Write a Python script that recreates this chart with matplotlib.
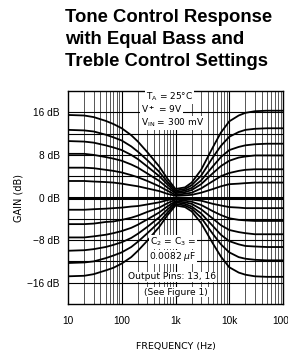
import numpy as np
import matplotlib
matplotlib.use("Agg")
import matplotlib.pyplot as plt
from matplotlib.ticker import LogLocator, NullFormatter

# frequency points (Hz) shared by all curves
freq = [10, 20, 30, 50, 70, 100, 150, 200, 300, 500, 700, 1000,
        1500, 2000, 3000, 5000, 7000, 10000, 15000, 20000, 30000, 50000, 100000]

# gain (dB), boost curves first
boost_6 = [15.5, 15.4, 15.1, 14.4, 13.8, 13.0, 11.7, 10.5, 8.5, 5.8, 3.6, 1.6,
           1.9, 2.8, 5.2, 9.5, 12.2, 14.3, 15.4, 15.9, 16.2, 16.3, 16.3]
boost_5 = [12.7, 12.6, 12.4, 11.8, 11.3, 10.7, 9.6, 8.6, 7.0, 4.8, 3.0, 1.3,
           1.6, 2.3, 4.1, 7.6, 9.7, 11.4, 12.3, 12.7, 12.9, 13.0, 13.0]
boost_4 = [10.6, 10.5, 10.3, 9.8, 9.4, 8.9, 8.0, 7.2, 5.8, 4.0, 2.5, 1.0,
           1.3, 1.8, 3.2, 5.9, 7.6, 8.9, 9.5, 9.8, 10.0, 10.1, 10.1]
boost_3 = [8.2, 8.2, 8.0, 7.6, 7.3, 6.9, 6.2, 5.6, 4.5, 3.1, 1.9, 0.8,
           1.0, 1.4, 2.5, 4.6, 5.9, 6.9, 7.5, 7.7, 7.9, 7.9, 7.9]
boost_2 = [5.6, 5.6, 5.5, 5.2, 5.0, 4.7, 4.2, 3.8, 3.1, 2.1, 1.3, 0.5,
           0.7, 0.9, 1.7, 3.1, 4.0, 4.6, 5.0, 5.2, 5.3, 5.3, 5.3]
boost_1 = [3.1, 3.1, 3.0, 2.9, 2.8, 2.6, 2.3, 2.1, 1.7, 1.2, 0.7, 0.3,
           0.4, 0.5, 0.9, 1.6, 2.1, 2.5, 2.6, 2.7, 2.8, 2.8, 2.8]
flat = [0.0] * len(freq)
cut_1 = [-2.3, -2.3, -2.2, -2.1, -2.0, -1.9, -1.7, -1.6, -1.3, -0.9, -0.5, -0.2,
         -0.3, -0.4, -0.6, -1.2, -1.5, -1.8, -1.9, -2.0, -2.0, -2.0, -2.0]
cut_2 = [-5.0, -5.0, -4.9, -4.6, -4.5, -4.2, -3.8, -3.4, -2.7, -1.9, -1.1, -0.4,
         -0.6, -0.8, -1.4, -2.6, -3.3, -3.9, -4.2, -4.3, -4.4, -4.4, -4.4]
cut_3 = [-7.5, -7.5, -7.3, -7.0, -6.7, -6.3, -5.7, -5.1, -4.1, -2.8, -1.7, -0.7,
         -0.9, -1.2, -2.2, -4.0, -5.2, -6.1, -6.5, -6.7, -6.9, -6.9, -6.9]
cut_4 = [-10.0, -9.9, -9.7, -9.3, -8.9, -8.4, -7.6, -6.8, -5.5, -3.7, -2.3, -0.9,
         -1.2, -1.7, -3.0, -5.4, -7.0, -8.2, -8.8, -9.1, -9.2, -9.3, -9.3]
cut_5 = [-12.3, -12.2, -12.0, -11.4, -10.9, -10.3, -9.3, -8.3, -6.7, -4.6, -2.9, -1.2,
         -1.5, -2.1, -3.8, -6.9, -8.8, -10.3, -11.2, -11.5, -11.7, -11.8, -11.8]
cut_6 = [-14.8, -14.7, -14.4, -13.7, -13.2, -12.4, -11.2, -10.0, -8.1, -5.5, -3.4, -1.5,
         -1.8, -2.6, -4.8, -8.7, -11.1, -13.1, -14.1, -14.5, -14.8, -14.9, -14.9]

curves = [boost_6, boost_5, boost_4, boost_3, boost_2, boost_1,
          cut_1, cut_2, cut_3, cut_4, cut_5, cut_6]

y_ticks = [16, 8, 0, -8, -16]
y_tick_labels = ["16 dB", "8 dB", "0 dB", "\u22128 dB", "\u221216 dB"]
x_ticks = [10, 100, 1000, 10000, 100000]
x_tick_labels = ["10", "100", "1k", "10k", "100k"]

notes_top = ["T$_{\\rm A}$ = 25\u00b0C", "V$^{\\bf +}$ = 9V", "V$_{\\rm IN}$ = 300 mV"]
notes_bottom = ["C$_2$ = C$_3$ =", "0.0082 $\\mu$F", "Output Pins: 13, 16", "(See Figure 1)"]

fig = plt.figure(figsize=(2.88, 3.54), dpi=100)
ax = fig.add_axes([68 / 288, 50 / 354, 215 / 288, 213 / 354])

ax.set_xscale("log")
ax.set_xlim(10, 100000)
ax.set_ylim(-20, 20)

# grid: log minors in grey, decades and 4 dB rows in black
for dec in [10, 100, 1000, 10000]:
    for m in range(2, 10):
        ax.axvline(dec * m, color="#555555", lw=0.7, zorder=1)
for dec in [100, 1000, 10000]:
    ax.axvline(dec, color="black", lw=0.8, zorder=1)
for yy in range(-16, 17, 4):
    ax.axhline(yy, color="black", lw=0.8, zorder=1)

for c in curves:
    ax.plot(freq, c, color="black", lw=1.3, zorder=2)
ax.plot(freq, flat, color="black", lw=2.2, zorder=2)

ax.set_yticks(y_ticks)
ax.set_yticklabels(y_tick_labels, family="Liberation Sans")
ax.set_xticks(x_ticks)
ax.set_xticklabels(x_tick_labels, family="Liberation Sans")
ax.xaxis.set_minor_locator(LogLocator(subs=[]))
ax.xaxis.set_minor_formatter(NullFormatter())
ax.tick_params(axis="both", length=0, labelsize=7.3)
ax.tick_params(axis="y", pad=6)
ax.tick_params(axis="x", pad=9)
for s in ax.spines.values():
    s.set_linewidth(1.0)

ax.set_ylabel("GAIN (dB)", fontsize=7, labelpad=3)
ax.set_xlabel("FREQUENCY (Hz)", fontsize=6.8, labelpad=11)

box = dict(facecolor="white", edgecolor="none", pad=0.6)
top_pos = [(0.474, 0.972), (0.437, 0.915), (0.488, 0.850)]
for t, (xx, yy) in zip(notes_top, top_pos):
    ax.text(xx, yy, t, transform=ax.transAxes, ha="center", va="center",
            fontsize=6.5, bbox=box, zorder=5)
bot_pos = [(0.488, 0.291), (0.488, 0.221), (0.484, 0.127), (0.502, 0.056)]
for t, (xx, yy) in zip(notes_bottom, bot_pos):
    ax.text(xx, yy, t, transform=ax.transAxes, ha="center", va="center",
            fontsize=6.6, bbox=box, zorder=5)

title = ["Tone Control Response", "with Equal Bass and", "Treble Control Settings"]
for i, line in enumerate(title):
    fig.text(65 / 288, 1 - (18 + i * 21.5) / 354, line, ha="left", va="center",
             fontsize=13.3, fontweight="bold", family="Liberation Sans")

fig.savefig("out.png", dpi=100)
